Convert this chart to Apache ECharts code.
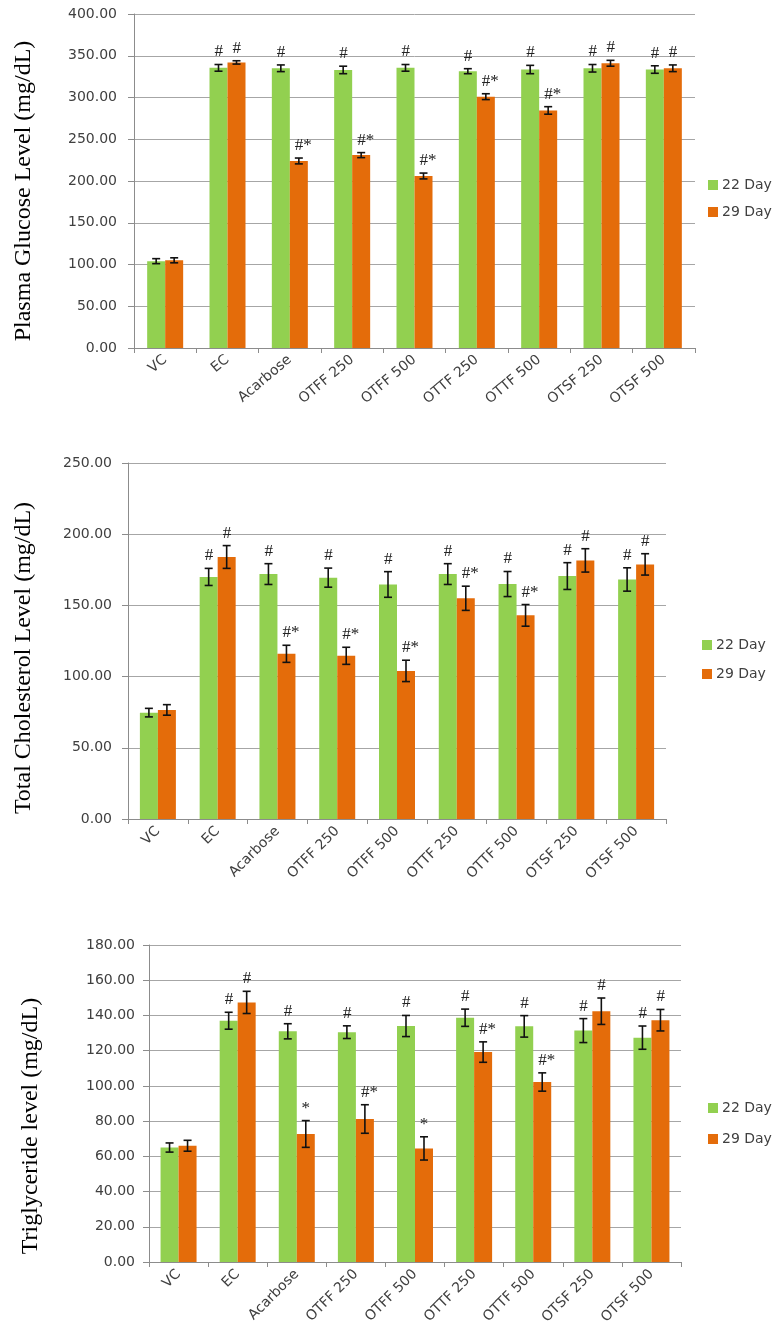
<!DOCTYPE html>
<html>
<head>
<meta charset="utf-8">
<script src="https://cdn.jsdelivr.net/npm/echarts@6/dist/echarts.min.js"></script>
<style>
html,body{margin:0;padding:0;background:#fff;}
#chart{width:774px;height:1341px;}
</style>
</head>
<body>
<div id="chart"></div>
<script>
// ---------- DATA ----------
const categories = ['VC','EC','Acarbose','OTFF 250','OTFF 500','OTTF 250','OTTF 500','OTSF 250','OTSF 500'];
const seriesNames = ['22 Day','29 Day'];

const glucose22 = [104, 335.5, 335, 333, 335.5, 331.5, 333.5, 335, 333.5];
const glucose29 = [105, 342, 224, 231, 206, 301, 284.5, 341, 335];
const glucoseErr22 = [3, 4, 4, 4.5, 4, 3, 5, 4.5, 4.5];
const glucoseErr29 = [3, 2, 3.5, 3, 3.5, 3.5, 4.5, 3.5, 4];
const glucoseMark22 = ['', '#', '#', '#', '#', '#', '#', '#', '#'];
const glucoseMark29 = ['', '#', '#*', '#*', '#*', '#*', '#*', '#', '#'];
const glucoseTicks = {min: 0, max: 400, interval: 50};

const chol22 = [74.7, 170, 172, 169.5, 164.7, 172, 165, 170.6, 168.2];
const chol29 = [76.6, 184, 116, 114.6, 104, 155, 143, 181.6, 178.8];
const cholErr22 = [3, 6, 7.3, 6.7, 9, 7.3, 8.8, 9.4, 8.2];
const cholErr29 = [3.7, 8, 6, 6, 7.5, 8.5, 7.6, 8.2, 7.5];
const cholMark22 = ['', '#', '#', '#', '#', '#', '#', '#', '#'];
const cholMark29 = ['', '#', '#*', '#*', '#*', '#*', '#*', '#', '#'];
const cholTicks = {min: 0, max: 250, interval: 50};

const tri22 = [65, 137, 131, 130.5, 134, 138.7, 133.8, 131.4, 127.4];
const tri29 = [66, 147.4, 72.7, 81.2, 64.5, 119.2, 102.2, 142.4, 137.3];
const triErr22 = [2.6, 4.8, 4.3, 3.6, 6, 4.9, 6.1, 6.8, 6.6];
const triErr29 = [3.1, 6.3, 7.6, 8.1, 6.6, 5.8, 5.2, 7.5, 6.1];
const triMark22 = ['', '#', '#', '#', '#', '#', '#', '#', '#'];
const triMark29 = ['', '#', '*', '#*', '*', '#*', '#*', '#', '#'];
const triTicks = {min: 0, max: 180, interval: 20};

const yTitles = ['Plasma Glucose Level (mg/dL)', 'Total Cholesterol Level (mg/dL)', 'Triglyceride level (mg/dL)'];

// ---------- LAYOUT / STYLE ----------
const GREEN = '#92D050', ORANGE = '#E46C0A';
const BAR_W = 18;
const panels = [
  {grid:{left:134, right:79, top:14, height:334}, ticks:glucoseTicks, v:[glucose22,glucose29], e:[glucoseErr22,glucoseErr29], m:[glucoseMark22,glucoseMark29], labMargin:17, rot:40, legend:{left:703, top:173, itemGap:13}, title:{x:24, y:191}},
  {grid:{left:128, right:108, top:463, height:356}, ticks:cholTicks, v:[chol22,chol29], e:[cholErr22,cholErr29], m:[cholMark22,cholMark29], labMargin:16, rot:45, legend:{left:697, top:633, itemGap:15}, title:{x:24, y:658}},
  {grid:{left:149, right:93, top:945, height:317}, ticks:triTicks, v:[tri22,tri29], e:[triErr22,triErr29], m:[triMark22,triMark29], labMargin:14, rot:45, legend:{left:703, top:1096, itemGap:17}, title:{x:31, y:1126}}
];

const sansFont = 'DejaVu Sans';
const serifFont = 'Liberation Serif';

function errRender(offset){
  return function(params, api){
    const ci = api.value(0);
    const hi = api.coord([ci, api.value(2)]);
    const lo = api.coord([ci, api.value(3)]);
    const x = hi[0] + offset;
    const cap = 4;
    const mark = api.value(4);
    const children = [
      {type:'line', shape:{x1:x, y1:hi[1], x2:x, y2:lo[1]}, style:{stroke:'#111', lineWidth:1.6}},
      {type:'line', shape:{x1:x-cap, y1:hi[1], x2:x+cap, y2:hi[1]}, style:{stroke:'#111', lineWidth:1.6}},
      {type:'line', shape:{x1:x-cap, y1:lo[1], x2:x+cap, y2:lo[1]}, style:{stroke:'#111', lineWidth:1.6}}
    ];
    if (mark) {
      const startsHash = String(mark).charAt(0) === '#';
      children.push({type:'text', style:{
        text: mark, x: startsHash ? x - 4 : x, y: hi[1] - 4,
        align: startsHash ? 'left' : 'center', verticalAlign: 'bottom',
        font: '17px "' + serifFont + '"', fill: '#222'
      }});
    }
    return {type:'group', children: children};
  };
}

const option = {
  backgroundColor:'#fff',
  animation:false,
  grid: panels.map(p => p.grid),
  legend: panels.map(p => ({
    data: seriesNames, orient:'vertical', left:p.legend.left, top:p.legend.top,
    itemWidth:10, itemHeight:10, itemGap:p.legend.itemGap, icon:'rect',
    textStyle:{fontFamily:sansFont, fontSize:14, color:'#404040', padding:[0,0,0,-1]}
  })),
  xAxis: panels.map((p,i) => ({
    type:'category', gridIndex:i, data:categories,
    axisLine:{lineStyle:{color:'#8c8c8c', width:1}},
    axisTick:{show:true, length:5, lineStyle:{color:'#8c8c8c'}},
    axisLabel:{rotate:p.rot, margin:10, fontFamily:sansFont, fontSize:14, color:'#404040', interval:0}
  })),
  yAxis: panels.map((p,i) => ({
    type:'value', gridIndex:i, min:p.ticks.min, max:p.ticks.max, interval:p.ticks.interval,
    axisLine:{show:true, lineStyle:{color:'#8c8c8c', width:1}},
    axisTick:{show:true, length:6, lineStyle:{color:'#8c8c8c'}},
    splitLine:{show:true, lineStyle:{color:'#a6a6a6', width:1}},
    axisLabel:{margin:p.labMargin, fontFamily:sansFont, fontSize:14, color:'#404040',
      formatter: v => v.toFixed(2)}
  })),
  graphic: panels.map((p,i) => ({
    type:'text', x:p.title.x, y:p.title.y, rotation:Math.PI/2,
    style:{text:yTitles[i], font:'24px "' + serifFont + '"', fill:'#000', align:'center', verticalAlign:'middle'}
  })),
  series: []
};

panels.forEach((p,i) => {
  [0,1].forEach(s => {
    option.series.push({
      name: seriesNames[s], type:'bar', xAxisIndex:i, yAxisIndex:i,
      data: p.v[s], barWidth:BAR_W, barGap:'0%',
      itemStyle:{color: s === 0 ? GREEN : ORANGE}
    });
  });
  [0,1].forEach(s => {
    option.series.push({
      name: seriesNames[s] + ' err', type:'custom', xAxisIndex:i, yAxisIndex:i,
      renderItem: errRender(s === 0 ? -BAR_W/2 : BAR_W/2),
      encode:{x:0, y:[1,2,3]}, clip:false, z:10,
      data: p.v[s].map((v,k) => [k, v, v + p.e[s][k], v - p.e[s][k], p.m[s][k]])
    });
  });
});

const chart = echarts.init(document.getElementById('chart'), null, {renderer:'canvas'});
chart.setOption(option);
</script>
</body>
</html>
